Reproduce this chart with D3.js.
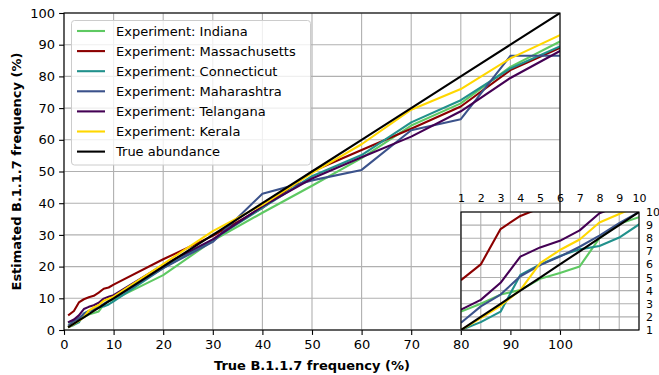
<!DOCTYPE html>
<html>
<head>
<meta charset="utf-8">
<script src="https://cdn.jsdelivr.net/npm/d3@7"></script>
<style>
  html, body { margin: 0; padding: 0; background: #fff; }
  svg { display: block; font-family: "DejaVu Sans", sans-serif; }
</style>
</head>
<body>
<svg id="chart" width="659" height="375"></svg>
<script>
// True B.1.1.7 abundance in each mixture (%)
const trueFreq = [1, 2, 3, 4, 5, 6, 7, 8, 9, 10, 20, 30, 40, 50, 60, 70, 80, 90, 100];

// Estimated frequency (%) per sequencing experiment
const indiana       = [2.4, 3.0, 3.7, 4.05, 4.9, 5.35, 5.85, 8.0, 9.1, 9.6, 17.3, 28.2, 37.0, 45.5, 54.2, 64.5, 71.5, 83.0, 91.0];
const massachusetts = [4.8, 6.0, 8.7, 9.7, 10.3, 10.8, 11.8, 13.0, 13.4, 14.3, 22.3, 29.7, 38.5, 50.0, 56.8, 63.5, 70.5, 82.0, 89.0];
const connecticut   = [1.0, 1.6, 2.4, 5.2, 6.0, 6.65, 7.15, 7.4, 8.05, 9.05, 19.5, 28.5, 38.5, 48.5, 55.2, 65.5, 72.5, 82.5, 89.5];
const maharashtra   = [1.55, 2.8, 3.7, 5.1, 5.95, 6.6, 7.35, 8.2, 9.15, 10.0, 19.5, 27.8, 43.0, 47.2, 50.5, 63.0, 66.5, 86.5, 86.5];
const telangana     = [2.55, 3.3, 4.6, 6.6, 7.3, 7.8, 8.6, 9.9, 10.5, 11.0, 20.5, 28.6, 39.0, 47.8, 54.5, 61.0, 69.0, 79.5, 88.0];
const kerala        = [1.0, 1.9, 2.85, 4.05, 6.1, 7.1, 7.9, 9.2, 9.85, 10.5, 20.8, 31.2, 39.5, 49.5, 58.6, 69.5, 76.0, 85.7, 93.0];
const trueAbundance = trueFreq.slice();

const seriesNames  = ["Experiment: Indiana", "Experiment: Massachusetts", "Experiment: Connecticut",
                      "Experiment: Maharashtra", "Experiment: Telangana", "Experiment: Kerala", "True abundance"];
const seriesValues = [indiana, massachusetts, connecticut, maharashtra, telangana, kerala, trueAbundance];
const seriesColors = ["#5ec962", "#8b0000", "#21918c", "#3b528b", "#440154", "#ffd700", "#000000"];

const mainTicks  = [0, 10, 20, 30, 40, 50, 60, 70, 80, 90, 100];
const insetTicks = [1, 2, 3, 4, 5, 6, 7, 8, 9, 10];

const xLabel = "True B.1.1.7 frequency (%)";
const yLabel = "Estimated B.1.1.7 frequency (%)";

const series = seriesNames.map((name, i) => ({
  name, color: seriesColors[i],
  points: trueFreq.map((t, j) => [t, seriesValues[i][j]])
}));

const svg = d3.select("#chart");
const gridColor = "#b0b0b0";

// ---------- main axes ----------
const M = { left: 64, right: 560, top: 13, bottom: 330 };
const x = d3.scaleLinear().domain([0, 100]).range([M.left, M.right]);
const y = d3.scaleLinear().domain([0, 100]).range([M.bottom, M.top]);

svg.append("defs").append("clipPath").attr("id", "mainClip")
  .append("rect").attr("x", M.left).attr("y", M.top)
  .attr("width", M.right - M.left).attr("height", M.bottom - M.top);

const grid = svg.append("g");
grid.selectAll("line.vx").data(mainTicks).join("line")
  .attr("x1", d => x(d)).attr("x2", d => x(d))
  .attr("y1", M.top).attr("y2", M.bottom)
  .attr("stroke", gridColor).attr("stroke-width", 1.1);
grid.selectAll("line.hy").data(mainTicks).join("line")
  .attr("y1", d => y(d)).attr("y2", d => y(d))
  .attr("x1", M.left).attr("x2", M.right)
  .attr("stroke", gridColor).attr("stroke-width", 1.1);

const line = d3.line().x(d => x(d[0])).y(d => y(d[1]));
svg.append("g").attr("clip-path", "url(#mainClip)")
  .selectAll("path").data(series).join("path")
  .attr("d", d => line(d.points))
  .attr("fill", "none").attr("stroke", d => d.color)
  .attr("stroke-width", 2.1).attr("stroke-linejoin", "round").attr("stroke-linecap", "square");

// axes
const xAxis = d3.axisBottom(x).tickValues(mainTicks).tickSize(4.9).tickPadding(4.5).tickFormat(d3.format("d"));
const yAxis = d3.axisLeft(y).tickValues(mainTicks).tickSize(4.9).tickPadding(4).tickFormat(d3.format("d"));
const gx = svg.append("g").attr("transform", `translate(0,${M.bottom})`).call(xAxis);
const gy = svg.append("g").attr("transform", `translate(${M.left},0)`).call(yAxis);
[gx, gy].forEach(g => {
  g.select(".domain").remove();
  g.selectAll(".tick line").attr("stroke", "#000").attr("stroke-width", 1.1);
  g.selectAll(".tick text").attr("fill", "#000").attr("font-size", 13)
    .attr("font-family", "DejaVu Sans, sans-serif");
});

// frame
svg.append("rect").attr("x", M.left).attr("y", M.top)
  .attr("width", M.right - M.left).attr("height", M.bottom - M.top)
  .attr("fill", "none").attr("stroke", "#000").attr("stroke-width", 1.1);

// axis titles
svg.append("text").attr("x", (M.left + M.right) / 2).attr("y", 370)
  .attr("text-anchor", "middle").attr("font-size", 13).attr("font-weight", "bold")
  .text(xLabel);
svg.append("text")
  .attr("transform", `translate(21,${(M.top + M.bottom) / 2}) rotate(-90)`)
  .attr("text-anchor", "middle").attr("font-size", 13).attr("font-weight", "bold")
  .text(yLabel);

// ---------- legend ----------
const L = { x: 71.5, y: 20.5, w: 239, h: 144.5, rowH: 20.1 };
const leg = svg.append("g");
leg.append("rect").attr("x", L.x).attr("y", L.y).attr("width", L.w).attr("height", L.h)
  .attr("rx", 3).attr("fill", "#fff").attr("fill-opacity", 0.8)
  .attr("stroke", "#cccccc").attr("stroke-width", 1);
const rows = leg.selectAll("g.row").data(series).join("g")
  .attr("transform", (d, i) => `translate(0,${31 + i * L.rowH})`);
rows.append("line").attr("x1", 77).attr("x2", 105).attr("y1", 0).attr("y2", 0)
  .attr("stroke", d => d.color).attr("stroke-width", 2.1);
rows.append("text").attr("x", 116).attr("y", 0).attr("dy", "0.35em")
  .attr("font-size", 13).attr("fill", "#000").text(d => d.name);

// ---------- inset (low-frequency zoom) ----------
const I = { left: 461, right: 639, top: 212, bottom: 330 };
const xi = d3.scaleLinear().domain([1, 10]).range([I.left, I.right]);
const yi = d3.scaleLinear().domain([1, 10]).range([I.bottom, I.top]);

svg.select("defs").append("clipPath").attr("id", "insetClip")
  .append("rect").attr("x", I.left).attr("y", I.top)
  .attr("width", I.right - I.left).attr("height", I.bottom - I.top);

const inset = svg.append("g");
inset.append("rect").attr("x", I.left).attr("y", I.top)
  .attr("width", I.right - I.left).attr("height", I.bottom - I.top).attr("fill", "#fff");
inset.selectAll("line.ivx").data(insetTicks).join("line")
  .attr("x1", d => xi(d)).attr("x2", d => xi(d)).attr("y1", I.top).attr("y2", I.bottom)
  .attr("stroke", gridColor).attr("stroke-width", 1.1);
inset.selectAll("line.ihy").data(insetTicks).join("line")
  .attr("y1", d => yi(d)).attr("y2", d => yi(d)).attr("x1", I.left).attr("x2", I.right)
  .attr("stroke", gridColor).attr("stroke-width", 1.1);

const lineI = d3.line().x(d => xi(d[0])).y(d => yi(d[1]));
inset.append("g").attr("clip-path", "url(#insetClip)")
  .selectAll("path").data(series).join("path")
  .attr("d", d => lineI(d.points))
  .attr("fill", "none").attr("stroke", d => d.color)
  .attr("stroke-width", 2.1).attr("stroke-linejoin", "round");

inset.append("rect").attr("x", I.left).attr("y", I.top)
  .attr("width", I.right - I.left).attr("height", I.bottom - I.top)
  .attr("fill", "none").attr("stroke", "#000").attr("stroke-width", 1.1);

const gxi = inset.append("g").attr("transform", `translate(0,${I.top})`)
  .call(d3.axisTop(xi).tickValues(insetTicks).tickSize(0).tickPadding(10).tickFormat(d3.format("d")));
const gyi = inset.append("g").attr("transform", `translate(${I.right},0)`)
  .call(d3.axisRight(yi).tickValues(insetTicks).tickSize(0).tickPadding(7).tickFormat(d3.format("d")));
[gxi, gyi].forEach(g => {
  g.select(".domain").remove();
  g.selectAll(".tick text").attr("fill", "#000").attr("font-size", 11)
    .attr("font-family", "DejaVu Sans, sans-serif");
});
</script>
</body>
</html>
